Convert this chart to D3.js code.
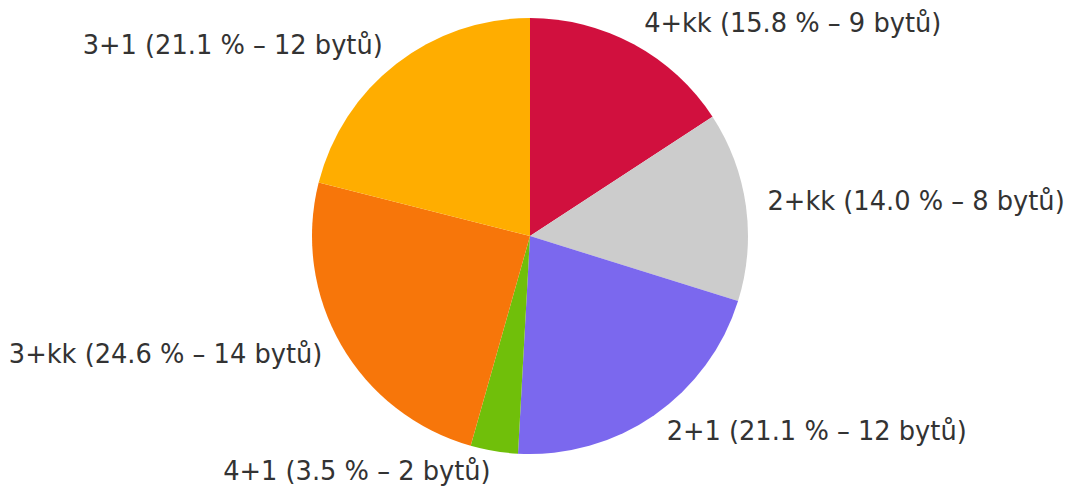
<!DOCTYPE html>
<html><head><meta charset="utf-8">
<script src="https://cdn.jsdelivr.net/npm/d3@7"></script>
<style>html,body{margin:0;padding:0;background:#fff;}svg{display:block;}</style>
</head><body>
<svg id="chart" width="1066" height="486"></svg>
<script>
const categories = ["4+kk", "2+kk", "2+1", "4+1", "3+kk", "3+1"];
const counts = [9, 8, 12, 2, 14, 12];
const colors = ["#d1103e", "#cccccc", "#7b68ee", "#70bf0a", "#f7760a", "#ffad00"];

const W = 1066, H = 486;
const cx = 530, cy = 236, R = 218;
const total = d3.sum(counts);
const data = categories.map((c, i) => ({cat: c, value: counts[i], color: colors[i]}));

const svg = d3.select("#chart");
const g = svg.append("g").attr("transform", `translate(${cx},${cy})`);

const pie = d3.pie().value(d => d.value).sort(null).startAngle(0).endAngle(2 * Math.PI);
const arcs = pie(data);
const arc = d3.arc().innerRadius(0).outerRadius(R);

g.selectAll("path").data(arcs).join("path")
  .attr("d", arc)
  .attr("fill", d => d.data.color);

const fmt = d3.format(".1f");
g.selectAll("text").data(arcs).join("text")
  .each(function(d) {
    const a = (d.startAngle + d.endAngle) / 2;
    const r = R * 1.1;
    const x = r * Math.sin(a), y = -r * Math.cos(a) - 2;
    d3.select(this)
      .attr("x", x).attr("y", y)
      .attr("text-anchor", x >= 0 ? "start" : "end");
  })
  .attr("dominant-baseline", "central")
  .attr("font-family", "DejaVu Sans")
  .attr("font-size", "25.7px")
  .attr("fill", "#333333")
  .text(d => `${d.data.cat} (${fmt(d.data.value / total * 100)} % – ${d.data.value} bytů)`);
</script>
</body></html>
